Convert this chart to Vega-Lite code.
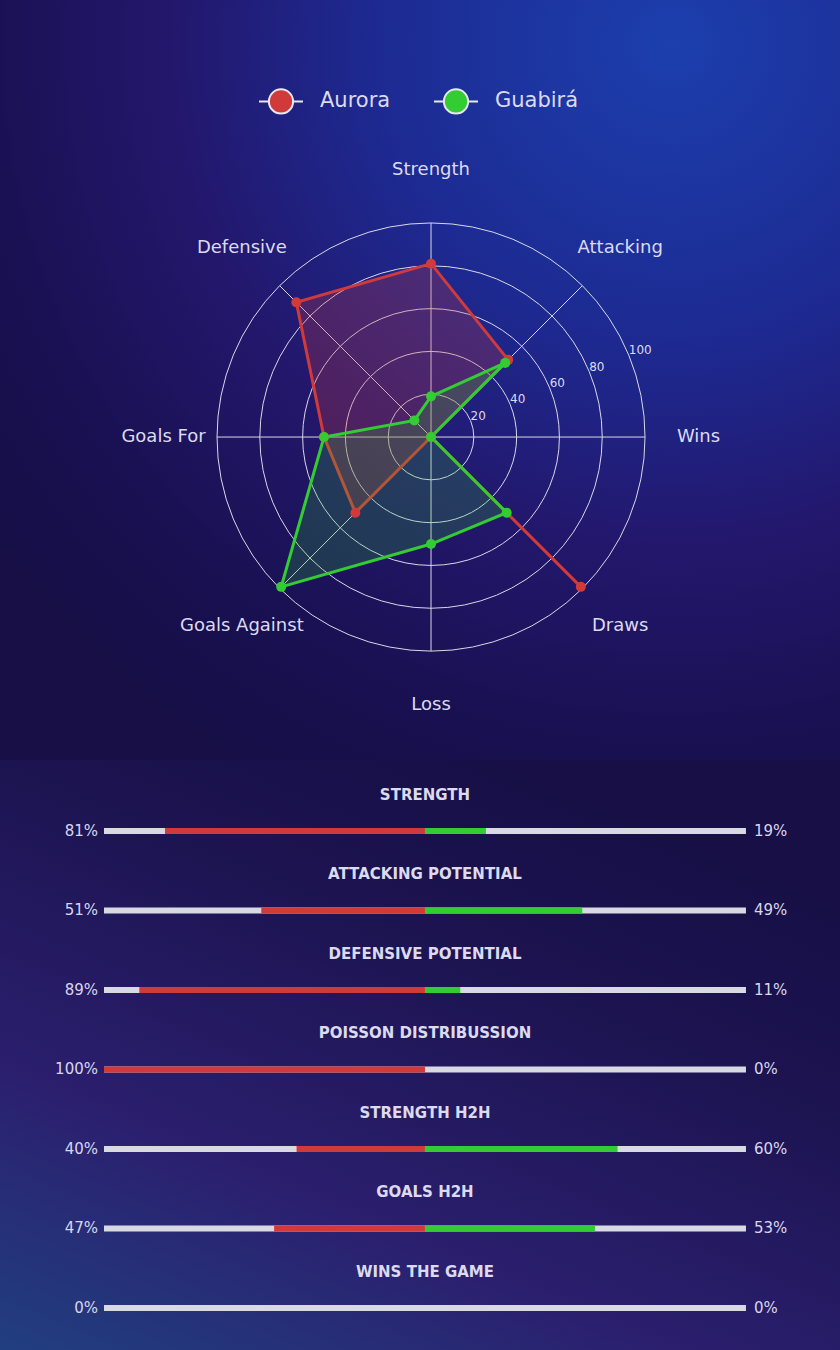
{
  "$schema": "https://vega.github.io/schema/vega-lite/v6.json",
  "background": "#19114a",
  "padding": 0,
  "spacing": 0,
  "config": {
    "font": "DejaVu Sans",
    "view": {"stroke": null}
  },
  "datasets": {
    "radar": [
      {"axis": "Strength", "idx": 0, "team": "Aurora", "value": 81},
      {"axis": "Attacking", "idx": 1, "team": "Aurora", "value": 51},
      {"axis": "Wins", "idx": 2, "team": "Aurora", "value": 0},
      {"axis": "Draws", "idx": 3, "team": "Aurora", "value": 99},
      {"axis": "Loss", "idx": 4, "team": "Aurora", "value": 0},
      {"axis": "Goals Against", "idx": 5, "team": "Aurora", "value": 50},
      {"axis": "Goals For", "idx": 6, "team": "Aurora", "value": 50},
      {"axis": "Defensive", "idx": 7, "team": "Aurora", "value": 89},
      {"axis": "Strength", "idx": 0, "team": "Guabirá", "value": 19},
      {"axis": "Attacking", "idx": 1, "team": "Guabirá", "value": 49},
      {"axis": "Wins", "idx": 2, "team": "Guabirá", "value": 0},
      {"axis": "Draws", "idx": 3, "team": "Guabirá", "value": 50},
      {"axis": "Loss", "idx": 4, "team": "Guabirá", "value": 50},
      {"axis": "Goals Against", "idx": 5, "team": "Guabirá", "value": 99},
      {"axis": "Goals For", "idx": 6, "team": "Guabirá", "value": 50},
      {"axis": "Defensive", "idx": 7, "team": "Guabirá", "value": 11}
    ],
    "axes": [
      {"axis": "Strength", "idx": 0},
      {"axis": "Attacking", "idx": 1},
      {"axis": "Wins", "idx": 2},
      {"axis": "Draws", "idx": 3},
      {"axis": "Loss", "idx": 4},
      {"axis": "Goals Against", "idx": 5},
      {"axis": "Goals For", "idx": 6},
      {"axis": "Defensive", "idx": 7}
    ],
    "rings": [{"r": 20}, {"r": 40}, {"r": 60}, {"r": 80}, {"r": 100}],
    "bars": [
      {"metric": "STRENGTH", "aurora": 81, "guabira": 19},
      {"metric": "ATTACKING POTENTIAL", "aurora": 51, "guabira": 49},
      {"metric": "DEFENSIVE POTENTIAL", "aurora": 89, "guabira": 11},
      {"metric": "POISSON DISTRIBUSSION", "aurora": 100, "guabira": 0},
      {"metric": "STRENGTH H2H", "aurora": 40, "guabira": 60},
      {"metric": "GOALS H2H", "aurora": 47, "guabira": 53},
      {"metric": "WINS THE GAME", "aurora": 0, "guabira": 0}
    ]
  },
  "vconcat": [
    {
      "width": 840,
      "height": 760,
      "view": {
        "stroke": null,
        "fill": {
          "gradient": "radial",
          "x1": 0.8, "y1": 0.1, "r1": 0,
          "x2": 0.8, "y2": 0.1, "r2": 1,
          "stops": [
            {"offset": 0, "color": "#1c3fae"},
            {"offset": 0.35, "color": "#1d2a92"},
            {"offset": 0.6, "color": "#23176c"},
            {"offset": 0.85, "color": "#181050"},
            {"offset": 1, "color": "#170f46"}
          ]
        }
      },
      "layer": [
        {
          "data": {"name": "rings"},
          "transform": [{"calculate": "0", "as": "c"}],
          "mark": {"type": "point", "shape": "circle", "filled": false, "opacity": 1, "stroke": "#d8d8e8", "strokeWidth": 1},
          "encoding": {
            "x": {"field": "c", "type": "quantitative", "scale": {"domain": [-201.4, 191.1], "nice": false, "zero": false}, "axis": null},
            "y": {"field": "c", "type": "quantitative", "scale": {"domain": [-150.9, 204.2], "nice": false, "zero": false}, "axis": null},
            "size": {"field": "r", "type": "quantitative", "scale": {"type": "pow", "exponent": 2, "domain": [0, 100], "range": [0, 183184], "zero": true}, "legend": null}
          }
        },
        {
          "data": {"name": "axes"},
          "transform": [
            {"calculate": "0", "as": "c"},
            {"calculate": "datum.idx * PI / 4", "as": "ang"},
            {"calculate": "100 * sin(datum.ang)", "as": "ex"},
            {"calculate": "100 * cos(datum.ang)", "as": "ey"}
          ],
          "mark": {"type": "rule", "color": "#d8d8e8", "strokeWidth": 1},
          "encoding": {
            "x": {"field": "c", "type": "quantitative", "axis": null},
            "y": {"field": "c", "type": "quantitative", "axis": null},
            "x2": {"field": "ex"},
            "y2": {"field": "ey"}
          }
        },
        {
          "data": {"name": "axes"},
          "transform": [
            {"calculate": "datum.idx * PI / 4", "as": "ang"},
            {"calculate": "125 * sin(datum.ang)", "as": "lx"},
            {"calculate": "125 * cos(datum.ang)", "as": "ly"}
          ],
          "mark": {"type": "text", "fontSize": 18, "color": "#dcdaf0", "align": "center", "baseline": "middle"},
          "encoding": {
            "x": {"field": "lx", "type": "quantitative", "axis": null},
            "y": {"field": "ly", "type": "quantitative", "axis": null},
            "text": {"field": "axis", "type": "nominal"}
          }
        },
        {
          "data": {"name": "rings"},
          "transform": [
            {"calculate": "datum.r * sin(3 * PI / 8)", "as": "tx"},
            {"calculate": "datum.r * cos(3 * PI / 8)", "as": "ty"}
          ],
          "mark": {"type": "text", "fontSize": 12, "color": "#dcdaf0", "align": "left", "baseline": "middle", "dy": -5},
          "encoding": {
            "x": {"field": "tx", "type": "quantitative", "axis": null},
            "y": {"field": "ty", "type": "quantitative", "axis": null},
            "text": {"field": "r", "type": "nominal"}
          }
        },
        {
          "data": {"name": "radar"},
          "transform": [
            {"filter": "datum.team === 'Aurora'"},
            {"calculate": "datum.idx * PI / 4", "as": "ang"},
            {"calculate": "datum.value * sin(datum.ang)", "as": "px"},
            {"calculate": "datum.value * cos(datum.ang)", "as": "py"}
          ],
          "mark": {"type": "line", "interpolate": "linear-closed", "strokeWidth": 3, "stroke": "#d13a3a", "fill": "#d13a3a", "fillOpacity": 0.25},
          "encoding": {
            "x": {"field": "px", "type": "quantitative", "axis": null},
            "y": {"field": "py", "type": "quantitative", "axis": null},
            "order": {"field": "idx", "type": "quantitative"}
          }
        },
        {
          "data": {"name": "radar"},
          "transform": [
            {"filter": "datum.team === 'Guabirá'"},
            {"calculate": "datum.idx * PI / 4", "as": "ang"},
            {"calculate": "datum.value * sin(datum.ang)", "as": "px"},
            {"calculate": "datum.value * cos(datum.ang)", "as": "py"}
          ],
          "mark": {"type": "line", "interpolate": "linear-closed", "strokeWidth": 3, "stroke": "#33cc33", "fill": "#33cc33", "fillOpacity": 0.2},
          "encoding": {
            "x": {"field": "px", "type": "quantitative", "axis": null},
            "y": {"field": "py", "type": "quantitative", "axis": null},
            "order": {"field": "idx", "type": "quantitative"}
          }
        },
        {
          "data": {"name": "radar"},
          "transform": [
            {"calculate": "datum.idx * PI / 4", "as": "ang"},
            {"calculate": "datum.value * sin(datum.ang)", "as": "px"},
            {"calculate": "datum.value * cos(datum.ang)", "as": "py"}
          ],
          "mark": {"type": "point", "filled": true, "opacity": 1, "size": 100},
          "encoding": {
            "x": {"field": "px", "type": "quantitative", "axis": null},
            "y": {"field": "py", "type": "quantitative", "axis": null},
            "color": {
              "field": "team", "type": "nominal",
              "scale": {"domain": ["Aurora", "Guabirá"], "range": ["#d13a3a", "#33cc33"]},
              "legend": {
                "title": null, "orient": "none", "direction": "horizontal",
                "legendX": 258, "legendY": 78,
                "symbolType": "M-1,0L-0.55,0M0.55,0L1,0M-0.55,0A0.55,0.55,0,1,1,0.55,0A0.55,0.55,0,1,1,-0.55,0Z",
                "symbolSize": 1936, "symbolOpacity": 1,
                "labelFontSize": 21, "labelColor": "#dcdaf0", "labelOffset": 16,
                "columnPadding": 39,
                "encode": {
                  "symbols": {"update": {"stroke": {"value": "#e8e8f2"}, "strokeWidth": {"value": 2}}}
                }
              }
            }
          }
        }
      ]
    },
    {
      "width": 840,
      "height": 590,
      "view": {
        "stroke": null,
        "fill": {
          "gradient": "linear",
          "x1": 0, "y1": 1, "x2": 0.6, "y2": 0,
          "stops": [
            {"offset": 0, "color": "#213f80"},
            {"offset": 0.35, "color": "#2b1f6e"},
            {"offset": 0.75, "color": "#1c1350"},
            {"offset": 1, "color": "#170f46"}
          ]
        }
      },
      "data": {"name": "bars"},
      "transform": [
        {"calculate": "0", "as": "mid"},
        {"calculate": "-100", "as": "lo"},
        {"calculate": "100", "as": "hi"},
        {"calculate": "-datum.aurora", "as": "left"},
        {"calculate": "datum.aurora + '%'", "as": "leftLabel"},
        {"calculate": "datum.guabira + '%'", "as": "rightLabel"}
      ],
      "encoding": {
        "y": {"field": "metric", "type": "nominal", "sort": null, "scale": {"type": "point", "padding": 0.711, "align": 0.628}, "axis": null}
      },
      "layer": [
        {
          "mark": {"type": "text", "fontSize": 15, "fontWeight": "bold", "color": "#dcdaee", "align": "center", "baseline": "middle", "dy": -36},
          "encoding": {
            "x": {"field": "mid", "type": "quantitative", "scale": {"domain": [-132.4, 129.3], "nice": false, "zero": false}, "axis": null},
            "text": {"field": "metric", "type": "nominal"}
          }
        },
        {
          "mark": {"type": "rule", "color": "#d9d9e3", "strokeWidth": 6},
          "encoding": {
            "x": {"field": "lo", "type": "quantitative", "axis": null},
            "x2": {"field": "hi"}
          }
        },
        {
          "mark": {"type": "rule", "color": "#d13a3a", "strokeWidth": 6},
          "encoding": {
            "x": {"field": "left", "type": "quantitative", "axis": null},
            "x2": {"field": "mid"}
          }
        },
        {
          "mark": {"type": "rule", "color": "#33cc33", "strokeWidth": 6},
          "encoding": {
            "x": {"field": "mid", "type": "quantitative", "axis": null},
            "x2": {"field": "guabira"}
          }
        },
        {
          "mark": {"type": "text", "fontSize": 15, "color": "#d8d6ee", "align": "right", "baseline": "middle", "dx": -6},
          "encoding": {
            "x": {"field": "lo", "type": "quantitative", "axis": null},
            "text": {"field": "leftLabel", "type": "nominal"}
          }
        },
        {
          "mark": {"type": "text", "fontSize": 15, "color": "#d8d6ee", "align": "left", "baseline": "middle", "dx": 8},
          "encoding": {
            "x": {"field": "hi", "type": "quantitative", "axis": null},
            "text": {"field": "rightLabel", "type": "nominal"}
          }
        }
      ]
    }
  ]
}
